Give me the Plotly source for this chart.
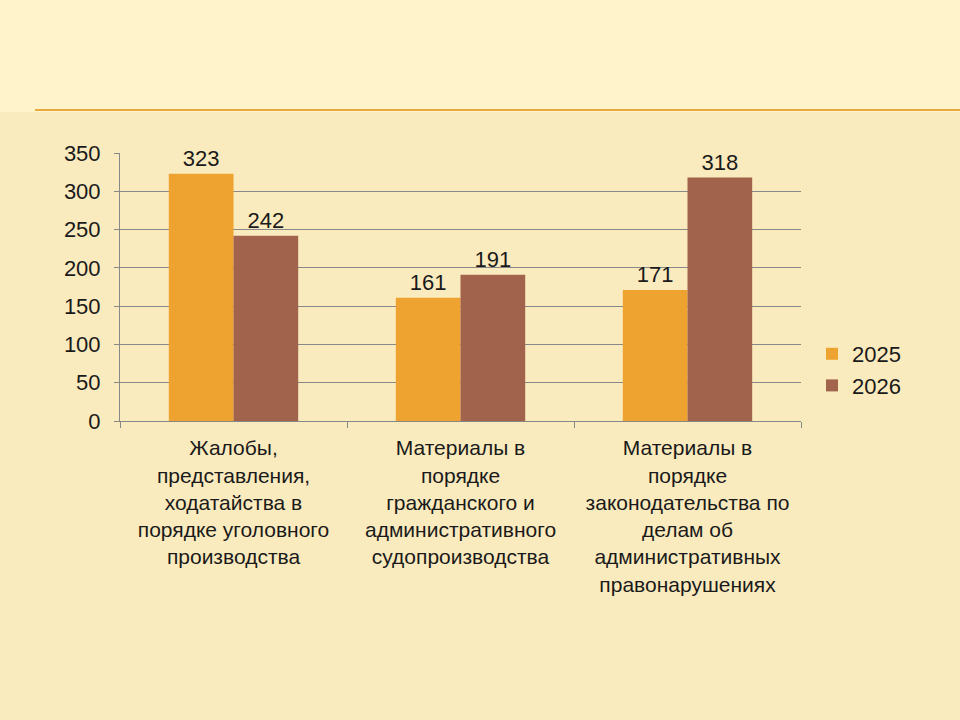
import plotly.graph_objects as go

# Данные
categories = [
    "Жалобы,<br>представления,<br>ходатайства в<br>порядке уголовного<br>производства",
    "Материалы в<br>порядке<br>гражданского и<br>административного<br>судопроизводства",
    "Материалы в<br>порядке<br>законодательства по<br>делам об<br>административных<br>правонарушениях",
]
series_names = ["2025", "2026"]
values_2025 = [323, 161, 171]
values_2026 = [242, 191, 318]
y_ticks = [0, 50, 100, 150, 200, 250, 300, 350]

colors = ["#EEA22F", "#A2634D"]
font_family = "Liberation Sans, Arial, sans-serif"

fig = go.Figure()
for name, vals, col in zip(series_names, [values_2025, values_2026], colors):
    fig.add_trace(go.Bar(
        x=categories,
        y=vals,
        name=name,
        legendgroup=name,
        marker=dict(color=col, line=dict(width=0)),
        text=vals,
        textposition="outside",
        textfont=dict(size=22, color="#1a1a1a", family=font_family),
        cliponaxis=False,
    ))

# положение области графика в пикселях
L, R, T, B = 120, 801, 153, 421
py = lambda y: (B - y) / (B - T)
px_ = lambda x: (x - L) / (R - L)

fig.update_layout(
    width=960,
    height=720,
    barmode="group",
    bargap=0.43,
    bargroupgap=0,
    paper_bgcolor="#FAEBBF",
    plot_bgcolor="rgba(0,0,0,0)",
    margin=dict(l=L, r=960 - R, t=T, b=720 - B),
    font=dict(family=font_family, color="#1a1a1a"),
    legend=dict(
        x=px_(812), y=py(333), xanchor="left", yanchor="top",
        font=dict(size=22, color="#1a1a1a"),
        bgcolor="rgba(0,0,0,0)",
        tracegroupgap=0,
        traceorder="grouped",
        itemwidth=30,
    ),
    xaxis=dict(
        showline=True, linecolor="#878787", linewidth=1,
        ticks="outside", tickson="boundaries", ticklen=6, tickcolor="#878787",
        tickfont=dict(size=21, color="#1a1a1a"),
        tickangle=0,
        ticklabelstandoff=8,
    ),
    yaxis=dict(
        range=[0, 350],
        tickvals=y_ticks,
        showline=True, linecolor="#878787", linewidth=1,
        showgrid=True, gridcolor="#888888", gridwidth=1,
        ticks="outside", ticklen=5, tickcolor="#878787",
        tickfont=dict(size=22, color="#1a1a1a"),
        ticklabelstandoff=9,
        zeroline=False,
    ),
    shapes=[
        # светлая полоса в верхней части слайда
        dict(type="rect", xref="paper", yref="paper", x0=px_(0), x1=px_(960),
             y0=py(112), y1=py(0), fillcolor="#FEF3CB", line=dict(width=0), layer="below"),
        # декоративная линия под заголовком
        dict(type="line", xref="paper", yref="paper", x0=px_(35), x1=px_(960),
             y0=py(110), y1=py(110),
             line=dict(color="#E9A93F", width=2), layer="below"),
    ],
)

fig.write_html("out.html", config={"displayModeBar": False},
               post_script="document.body.style.margin='0';")
